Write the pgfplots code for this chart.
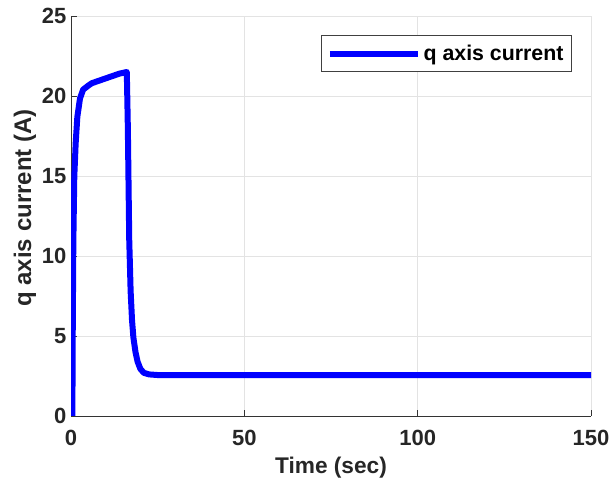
\documentclass[border=0pt]{standalone}
\usepackage{fontspec}
\setmainfont{Liberation Sans}
\usepackage{pgfplots}
\pgfplotsset{compat=1.18}
\definecolor{mblue}{RGB}{0,0,255}
\begin{document}
\begin{tikzpicture}
\begin{axis}[
  scale only axis, width=390pt, height=300pt,
  xmin=0, xmax=150, ymin=0, ymax=25,
  xtick={0,50,100,150}, ytick={0,5,10,15,20,25},
  axis lines*=left,
  axis line style={-, draw=black!80, line width=0.6pt},
  grid=major, grid style={draw=black!11, line width=0.6pt},
  tick align=inside, major tick length=4.5pt,
  tick style={draw=black!80, line width=0.6pt},
  /pgf/number format/assume math mode=true,
  tick label style={font=\fontsize{16.5}{19}\selectfont\bfseries, text=black!85},
  xticklabel style={yshift=-7pt},
  xlabel={Time (sec)}, ylabel={q axis current (A)},
  xlabel style={font=\fontsize{17}{20}\selectfont\bfseries, text=black!85, at={(axis description cs:0.5,-0.13)}, anchor=center},
  ylabel style={font=\fontsize{18}{21}\selectfont\bfseries, text=black!85, at={(axis description cs:-0.0885,0.52)}, anchor=center},
  legend style={at={(1,1)}, anchor=north east, xshift=-14.25pt, yshift=-14.25pt,
    draw=black!75, line width=0.75pt, fill=white,
    font=\fontsize{16}{19}\selectfont\bfseries, inner xsep=4pt, inner ysep=5pt},
  legend image code/.code={\draw[#1, line width=4.5pt] (0pt,0pt) -- (66pt,0pt);},
]
\addplot[mblue, line width=4.5pt, line join=round] coordinates {
(0.4,0) (0.48,4.56) (0.67,10.8) (0.95,14.96) (1.35,17.06) (1.83,18.7) (2.6,19.85) (3.5,20.4)
(5,20.65) (6,20.8) (8,20.95) (10,21.1) (12,21.25) (14,21.4) (16.1,21.5)
(16.4,18) (16.8,11) (17.2,7.8) (17.6,6.0) (18.0,4.9) (18.6,4.0) (19.2,3.4) (20.0,2.95)
(21,2.7) (22.5,2.6) (25,2.56) (150,2.56)
};
\addlegendentry{q axis current}
\end{axis}
\pgfresetboundingbox
\useasboundingbox (-53.25pt,-54pt) rectangle (406.5pt,312pt);
\end{tikzpicture}
\end{document}
